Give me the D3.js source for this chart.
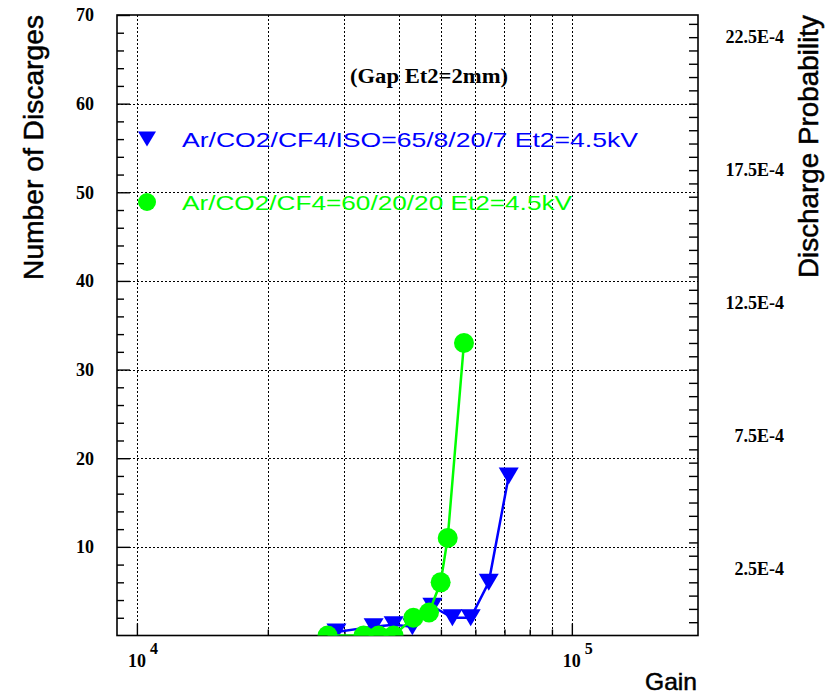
<!DOCTYPE html>
<html>
<head>
<meta charset="utf-8">
<script src="https://cdn.jsdelivr.net/npm/d3@7"></script>
<style>
  html, body { margin: 0; padding: 0; background: #ffffff; }
  svg { display: block; }
</style>
</head>
<body>
<svg id="chart" width="832" height="696"></svg>
<script>
// Discharges vs. gain for two gas mixtures (Et2 gap 2 mm)
const isoGain   = [28760, 35010, 38920, 42980, 47790, 53130, 58540, 64410, 71590];
const isoCount  = [0.4, 1.0, 1.2, 1.0, 3.3, 2.0, 2.0, 6.0, 18.0];
const cf4Gain   = [27440, 33200, 35950, 38910, 43210, 46940, 49930, 51830, 56490];
const cf4Count  = [0, 0, 0, 0, 2.0, 2.6, 6.0, 11.0, 33.0];

const seriesNames = [
  "Ar/CO2/CF4/ISO=65/8/20/7 Et2=4.5kV",
  "Ar/CO2/CF4=60/20/20 Et2=4.5kV"
];
const seriesColors = ["#0000ff", "#00ff00"];
const titleText = "(Gap Et2=2mm)";

const yTickValues = [10, 20, 30, 40, 50, 60, 70];
const probTickValues = [2.5e-4, 7.5e-4, 12.5e-4, 17.5e-4, 22.5e-4];
const probTickLabels = ["2.5E-4", "7.5E-4", "12.5E-4", "17.5E-4", "22.5E-4"];
const xMajorTicks = [1e4, 1e5];
const triggers = 30000; // discharge probability = count / triggers

const frame = { left: 117, right: 698, top: 15, bottom: 635.5 };
const svg = d3.select("#chart");

const x = d3.scaleLog().domain([9000, 195000]).range([frame.left, frame.right]);
const y = d3.scaleLinear().domain([0, 70]).range([frame.bottom, frame.top]);
const yProb = d3.scaleLinear().domain([0, 70 / triggers]).range([frame.bottom, frame.top]);

const serif = "'Liberation Serif', 'Times New Roman', serif";
const sans = "'Liberation Sans', Arial, sans-serif";

// clip region for the data
svg.append("defs").append("clipPath").attr("id", "plotClip")
  .append("rect")
  .attr("x", frame.left).attr("y", frame.top)
  .attr("width", frame.right - frame.left).attr("height", frame.bottom - frame.top);

// grid
const xGridVals = d3.range(1, 10).map(d => d * 1e4).concat([1e5]);
const grid = svg.append("g").attr("stroke", "#000").attr("stroke-width", 1)
  .attr("stroke-dasharray", "2,2").attr("shape-rendering", "crispEdges");
grid.selectAll("line.v").data(xGridVals).join("line").attr("class", "v")
  .attr("x1", d => Math.round(x(d)) + 0.5).attr("x2", d => Math.round(x(d)) + 0.5)
  .attr("y1", frame.top).attr("y2", frame.bottom);
grid.selectAll("line.h").data(d3.range(10, 70, 10)).join("line").attr("class", "h")
  .attr("y1", d => Math.round(y(d)) + 0.5).attr("y2", d => Math.round(y(d)) + 0.5)
  .attr("x1", frame.left).attr("x2", frame.right);

// left axis (ticks inside the frame)
const yAxis = d3.axisRight(y).tickValues(yTickValues).tickSize(13).tickFormat("");
const gy = svg.append("g").attr("transform", `translate(${frame.left},0)`).call(yAxis);
gy.select(".domain").remove();
const yMinor = d3.axisRight(y).tickValues(d3.range(2, 70, 2).filter(v => v % 10 !== 0)).tickSize(7).tickFormat("");
const gyMinor = svg.append("g").attr("transform", `translate(${frame.left},0)`).call(yMinor);
gyMinor.select(".domain").remove();
svg.append("g").selectAll("text").data(yTickValues).join("text")
  .attr("x", 94).attr("y", d => y(d)).attr("dy", "0.35em")
  .attr("text-anchor", "end").attr("font-family", serif).attr("font-weight", "bold")
  .attr("font-size", 18).text(d => d);

// right axis: discharge probability
const pAxis = d3.axisLeft(yProb).tickValues(d3.range(1, 47).map(i => i * 0.5e-4)).tickSize(9).tickFormat("");
const gp = svg.append("g").attr("transform", `translate(${frame.right},0)`).call(pAxis);
gp.select(".domain").remove();
svg.append("g").selectAll("text").data(probTickValues).join("text")
  .attr("x", 784).attr("y", d => yProb(d)).attr("dy", "0.35em")
  .attr("text-anchor", "end").attr("font-family", serif).attr("font-weight", "bold")
  .attr("font-size", 18).text((d, i) => probTickLabels[i]);

// bottom axis (log)
const xMinorVals = d3.range(2, 10).map(d => d * 1e4);
const xAxis = d3.axisTop(x).tickValues(xMajorTicks).tickSize(12).tickFormat("");
const gx = svg.append("g").attr("transform", `translate(0,${frame.bottom})`).call(xAxis);
gx.select(".domain").remove();
const xMinor = d3.axisTop(x).tickValues(xMinorVals).tickSize(6).tickFormat("");
const gxm = svg.append("g").attr("transform", `translate(0,${frame.bottom})`).call(xMinor);
gxm.select(".domain").remove();
svg.selectAll(".tick line").attr("stroke", "#000").attr("stroke-width", 1.4);

const xl = svg.append("g").selectAll("text").data(xMajorTicks).join("text")
  .attr("x", d => x(d) - 9).attr("y", 667)
  .attr("font-family", serif).attr("font-weight", "bold").attr("font-size", 18);
xl.append("tspan").text("10");
xl.append("tspan").attr("dx", 4).attr("dy", -13).attr("font-size", 16)
  .text(d => Math.round(Math.log10(d)));

// frame
svg.append("rect")
  .attr("x", frame.left).attr("y", frame.top)
  .attr("width", frame.right - frame.left).attr("height", frame.bottom - frame.top)
  .attr("fill", "none").attr("stroke", "#000").attr("stroke-width", 1.6);

// data
const plot = svg.append("g").attr("clip-path", "url(#plotClip)");
const line = d3.line().x(d => x(d[0])).y(d => y(d[1]));
const triangle = "M-10,-8.5L10,-8.5L0,8.5Z";

const isoPts = isoGain.map((g, i) => [g, isoCount[i]]);
const cf4Pts = cf4Gain.map((g, i) => [g, cf4Count[i]]);

plot.append("path").datum(isoPts).attr("d", line)
  .attr("fill", "none").attr("stroke", seriesColors[0]).attr("stroke-width", 2.5);
plot.append("g").selectAll("path").data(isoPts).join("path")
  .attr("transform", d => `translate(${x(d[0])},${y(d[1])})`)
  .attr("d", triangle).attr("fill", seriesColors[0]);

plot.append("path").datum(cf4Pts).attr("d", line)
  .attr("fill", "none").attr("stroke", seriesColors[1]).attr("stroke-width", 2.5);
plot.append("g").selectAll("circle").data(cf4Pts).join("circle")
  .attr("cx", d => x(d[0])).attr("cy", d => y(d[1])).attr("r", 10)
  .attr("fill", seriesColors[1]);

// title and legend
svg.append("text").attr("x", 350).attr("y", 83)
  .attr("font-family", serif).attr("font-weight", "bold").attr("font-size", 20)
  .attr("textLength", 158).attr("lengthAdjust", "spacingAndGlyphs")
  .text(titleText);

const legendRows = [
  { y: 139, width: 456 },
  { y: 202, width: 390 }
];
legendRows.forEach((r, i) => {
  if (i === 0) {
    svg.append("path").attr("transform", `translate(147,${r.y})`)
      .attr("d", "M-9,-7.5L9,-7.5L0,7.5Z").attr("fill", seriesColors[0]);
  } else {
    svg.append("circle").attr("cx", 147).attr("cy", r.y).attr("r", 9).attr("fill", seriesColors[1]);
  }
  svg.append("text").attr("x", 182).attr("y", r.y + 8)
    .attr("font-family", sans).attr("font-size", 21).attr("fill", seriesColors[i])
    .attr("textLength", r.width).attr("lengthAdjust", "spacingAndGlyphs")
    .text(seriesNames[i]);
});

// axis titles
const titleStyle = sel => sel.attr("font-family", sans).attr("stroke", "#000").attr("stroke-width", 0.5);
svg.append("text").attr("transform", "translate(43,280) rotate(-90)")
  .attr("font-size", 27).call(titleStyle)
  .attr("textLength", 265).attr("lengthAdjust", "spacingAndGlyphs")
  .text("Number of Discarges");
svg.append("text").attr("transform", "translate(818,278) rotate(-90)")
  .attr("font-size", 27).call(titleStyle)
  .attr("textLength", 263).attr("lengthAdjust", "spacingAndGlyphs")
  .text("Discharge Probability");
svg.append("text").attr("x", 645).attr("y", 690)
  .attr("font-size", 24).call(titleStyle)
  .attr("textLength", 52).attr("lengthAdjust", "spacingAndGlyphs")
  .text("Gain");
</script>
</body>
</html>
